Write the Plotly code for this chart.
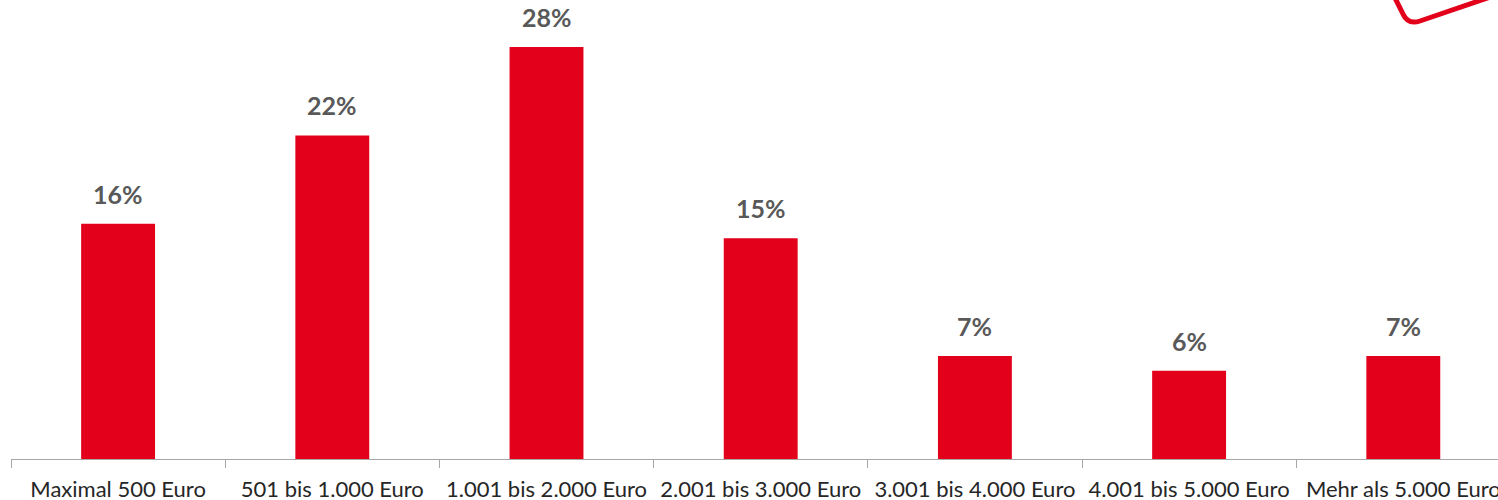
import plotly.graph_objects as go

categories = ["Maximal 500 Euro", "501 bis 1.000 Euro", "1.001 bis 2.000 Euro",
              "2.001 bis 3.000 Euro", "3.001 bis 4.000 Euro", "4.001 bis 5.000 Euro",
              "Mehr als 5.000 Euro"]
values = [16, 22, 28, 15, 7, 6, 7]
labels = [f"{v}%" for v in values]

RED = "#E2001A"
W, H = 1498, 500
L, B = 11, 41
PLOT_W, PLOT_H = W - L, H - B

fig = go.Figure()
fig.add_bar(x=categories, y=values, marker_color=RED,
            marker_line_width=0, width=0.345)

for c, v, t in zip(categories, values, labels):
    fig.add_annotation(x=c, y=v, text=f"<b>{t}</b>", showarrow=False,
                       yanchor="bottom", yshift=13,
                       font=dict(family="Lato", size=25, color="#595959"))

# decorative red corner stroke, top right (pixel coords -> paper)
def px(x, y):
    return (x - L) / PLOT_W, (H - B - y) / PLOT_H

p0 = px(1393, -6); p1 = px(1403, 14); c = px(1408, 25); p2 = px(1420, 21); p3 = px(1505, -8)
fig.add_shape(type="path", xref="paper", yref="paper",
              path=f"M {p0[0]},{p0[1]} L {p1[0]},{p1[1]} Q {c[0]},{c[1]} {p2[0]},{p2[1]} L {p3[0]},{p3[1]}",
              line=dict(color=RED, width=5))

fig.update_layout(
    width=W, height=H, margin=dict(l=L, r=0, t=0, b=B, autoexpand=False),
    plot_bgcolor="white", paper_bgcolor="white", showlegend=False,
    xaxis=dict(type="category", automargin=False,
               range=[-0.5, -0.5 + PLOT_W / 214.2], showgrid=False, zeroline=False,
               showline=True, linecolor="#A6A6A6", linewidth=1,
               ticks="outside", tickson="boundaries", ticklen=8, tickcolor="#A6A6A6",
               tickfont=dict(family="Lato", size=22, color="#262626"), ticklabelstandoff=11),
    yaxis=dict(range=[0, PLOT_H / 14.71], visible=False, showgrid=False, automargin=False),
)

# drop the browser's default body margin so the figure sits at the page corner
fig.write_html("out.html", config={"displayModeBar": False},
               post_script="document.body.style.margin='0';")
